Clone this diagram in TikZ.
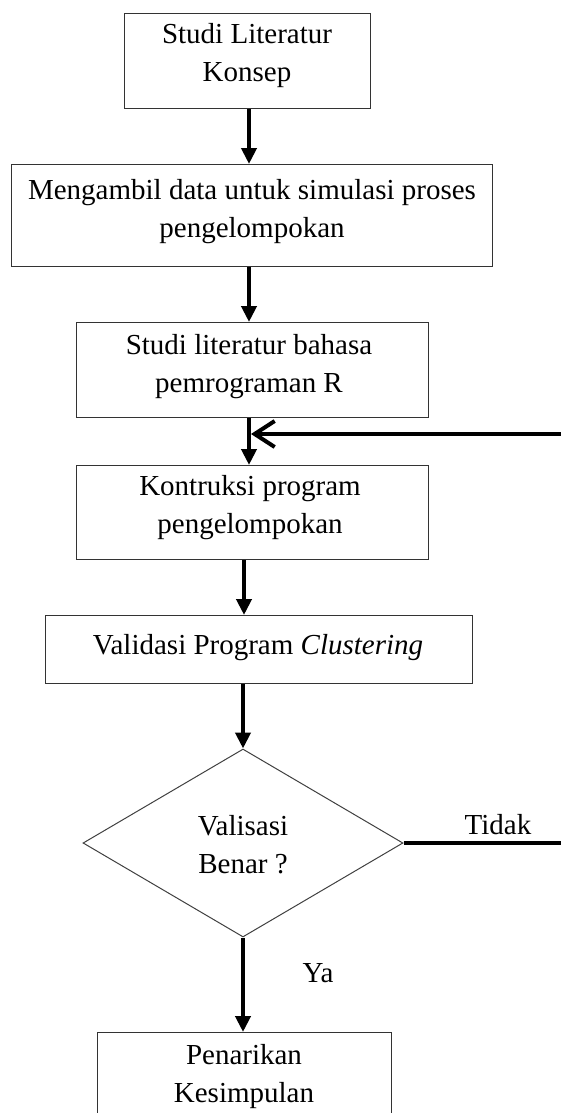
\documentclass[tikz,border=0pt]{standalone}
\usepackage{fontspec}
\setmainfont{Liberation Serif}
\usetikzlibrary{arrows.meta,shapes.geometric}
\begin{document}
\begin{tikzpicture}[x=1pt,y=-1pt,
  txt/.style={font=\fontsize{29}{38}\selectfont, align=center},
  stepbox/.style={draw=black!80, line width=1.4pt, inner sep=0pt, anchor=north west},
  flow/.style={line width=4pt, -{Triangle[length=16pt,width=15pt]}},
  back/.style={line width=4pt, -{Straight Barb[length=20pt,width=26pt,line width=4pt]}},
  plain/.style={line width=4pt}
]
\useasboundingbox (0,0) rectangle (561,1113);
\clip (0,0) rectangle (561,1113);
\node[stepbox, minimum width=246pt, minimum height=95pt] (b1) at (124,13) {};
\node[stepbox, minimum width=481pt, minimum height=102pt] (b2) at (11,164) {};
\node[stepbox, minimum width=352pt, minimum height=95pt] (b3) at (76,322) {};
\node[stepbox, minimum width=352pt, minimum height=94pt] (b4) at (76,465) {};
\node[stepbox, minimum width=427pt, minimum height=68pt] (b5) at (45,615) {};
\node[stepbox, minimum width=294pt, minimum height=110pt] (b6) at (97,1032) {};
\node[draw=black!75, line width=1pt, diamond, aspect=1.702, minimum width=320pt, minimum height=188pt, inner sep=0pt] (d) at (243,843) {};
\node[txt, anchor=base] (t1) at (247,82) {Studi Literatur\\Konsep};
\node[txt, anchor=base] (t2) at (252,237) {Mengambil data untuk simulasi proses\\pengelompokan};
\node[txt, anchor=base] (t3) at (249,392) {Studi literatur bahasa\\pemrograman R};
\node[txt, anchor=base] (t4) at (250,533) {Kontruksi program\\pengelompokan};
\node[txt, anchor=base] (t5) at (258,654) {Validasi Program \textit{Clustering}};
\node[txt, anchor=base] (dt) at (243,873) {Valisasi\\Benar ?};
\node[txt, anchor=base] (b6t) at (244,1102) {Penarikan\\Kesimpulan};
\coordinate (re) at (561,843);
\coordinate (rb) at (561,434);
\draw[flow] (b1.south -| 249,0) -- (249,164);
\draw[flow] (b2.south -| 249,0) -- (249,322);
\draw[flow] (b3.south -| 249,0) -- (b4.north -| 249,0);
\draw[back] (rb) -- (251,434);
\draw[flow] (b4.south -| 244,0) -- (244,615);
\draw[flow] (b5.south -| d.north) -- (d.north);
\draw[plain] (d.east) -- (re);
\draw[flow] (d.south) -- (b6.north -| d.south);
\node[txt, anchor=base] (tidak) at (498,834) {Tidak};
\node[txt, anchor=base] (ya) at (318,982) {Ya};
\end{tikzpicture}
\end{document}
